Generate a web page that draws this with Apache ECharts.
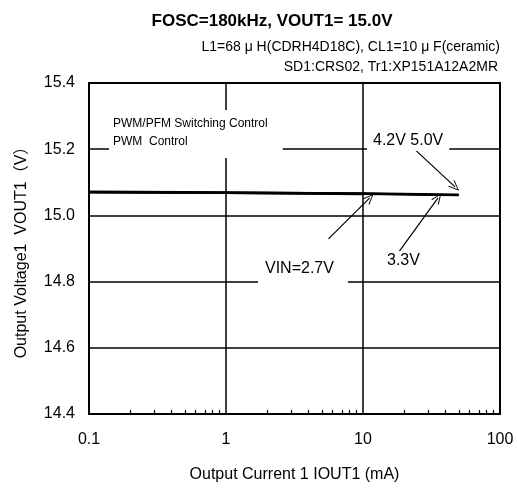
<!DOCTYPE html>
<html>
<head>
<meta charset="utf-8">
<script src="https://cdn.jsdelivr.net/npm/echarts@6/dist/echarts.min.js"></script>
<style>
  html, body { margin: 0; padding: 0; background: #fff; }
  #chart { width: 517px; height: 488px; }
</style>
</head>
<body>
<div id="chart"></div>
<script>
// curves: [IOUT1 mA, VOUT1 V]
const vin27 = [[0.1, 15.070], [1, 15.068], [10, 15.064]];
const vin33 = [[0.1, 15.072], [1, 15.070], [10, 15.066], [35, 15.062]];
const vin42 = [[0.1, 15.071], [1, 15.069], [10, 15.067], [50, 15.063]];
const vin50 = [[0.1, 15.069], [1, 15.068], [10, 15.065], [50, 15.061]];
const minorTicks = [0.2, 0.3, 0.4, 0.5, 0.6, 0.7, 0.8, 0.9, 2, 3, 4, 5, 6, 7, 8, 9, 20, 30, 40, 50, 60, 70, 80, 90];
// arrows pointing from labels to curves, in data units
const arrows = [
  [[5.6, 14.929], [11.2, 15.053]],
  [[18.0, 14.886], [35.3, 15.053]],
  [[22.8, 15.207], [47.0, 15.086]]
];

const chart = echarts.init(document.getElementById("chart"));
const font = "Liberation Sans, Arial, sans-serif";
const vee = "path://M0,0 L6,12 L4.8,12.6 L0,2.4 L-4.8,12.6 L-6,12 Z";

function curve(name, data) {
  return {
    name: name,
    type: "line",
    data: data,
    showSymbol: false,
    lineStyle: { color: "#000", width: 2 },
    z: 3
  };
}

const series = [
  curve("2.7V", vin27),
  curve("3.3V", vin33),
  curve("4.2V", vin42),
  curve("5.0V", vin50)
];
series[0].markLine = {
  silent: true,
  symbol: ["none", vee],
  symbolSize: [9, 11],
  label: { show: false },
  lineStyle: { color: "#000", width: 1.2, type: "solid" },
  data: arrows.map(a => [{ coord: a[0] }, { coord: a[1] }])
};

chart.setOption({
  backgroundColor: "#fff",
  animation: false,
  textStyle: { fontFamily: font, color: "#000" },
  title: {
    text: "FOSC=180kHz, VOUT1= 15.0V",
    left: 267,
    top: 8,
    textAlign: "center",
    textStyle: { fontSize: 17, fontWeight: "bold", color: "#000", fontFamily: font }
  },
  grid: {
    left: 89,
    right: 17,
    top: 83,
    bottom: 74,
    show: true,
    borderColor: "#000",
    borderWidth: 2
  },
  xAxis: [
    {
      type: "log",
      logBase: 10,
      min: 0.1,
      max: 100,
      name: "Output Current 1 IOUT1 (mA)",
      nameLocation: "middle",
      nameGap: 53,
      nameTextStyle: { fontSize: 16, color: "#000" },
      axisLine: { lineStyle: { color: "#000", width: 2 } },
      axisTick: { show: false },
      axisLabel: {
        fontSize: 16,
        color: "#000",
        margin: 18,
        formatter: v => String(v)
      },
      splitLine: { show: true, lineStyle: { color: "#000", width: 1.5 } }
    },
    {
      type: "log",
      logBase: 10,
      min: 0.1,
      max: 100,
      position: "bottom",
      axisLine: { show: false },
      axisLabel: { show: false },
      splitLine: { show: false },
      axisTick: {
        show: true,
        inside: true,
        length: 4,
        customValues: minorTicks,
        lineStyle: { color: "#000", width: 1.2 }
      }
    }
  ],
  yAxis: {
    type: "value",
    min: 14.4,
    max: 15.4,
    interval: 0.2,
    name: "Output Voltage1  VOUT1（V）",
    nameLocation: "middle",
    nameGap: 59,
    nameTextStyle: { fontSize: 16, color: "#000", fontFamily: "Liberation Sans, Noto Sans CJK JP, sans-serif" },
    axisLine: { show: true, lineStyle: { color: "#000", width: 2 } },
    axisTick: { show: false },
    axisLabel: {
      fontSize: 16,
      color: "#000",
      margin: 14,
      formatter: v => v.toFixed(1)
    },
    splitLine: { show: true, lineStyle: { color: "#000", width: 1.5 } }
  },
  graphic: [
    {
      type: "text",
      right: 17,
      top: 40,
      style: {
        text: "L1=68 \u03bc H(CDRH4D18C), CL1=10 \u03bc F(ceramic)",
        font: "14px " + font,
        fill: "#000"
      }
    },
    {
      type: "text",
      right: 19,
      top: 60,
      style: {
        text: "SD1:CRS02, Tr1:XP151A12A2MR",
        font: "14px " + font,
        fill: "#000"
      }
    },
    {
      type: "text",
      left: 109,
      top: 110,
      z: 10,
      style: {
        text: "PWM/PFM Switching Control\nPWM  Control",
        font: "12px " + font,
        fill: "#000",
        lineHeight: 18,
        backgroundColor: "#fff",
        padding: [5, 15, 7, 4]
      }
    },
    {
      type: "text",
      left: 367,
      top: 131,
      z: 10,
      style: {
        text: "4.2V 5.0V",
        font: "16px " + font,
        fill: "#000",
        backgroundColor: "#fff",
        padding: [2, 6, 2, 6]
      }
    },
    {
      type: "text",
      left: 385,
      top: 251,
      z: 10,
      style: {
        text: "3.3V",
        font: "16px " + font,
        fill: "#000",
        backgroundColor: "#fff",
        padding: [2, 2, 2, 2]
      }
    },
    {
      type: "text",
      left: 258,
      top: 258,
      z: 10,
      style: {
        text: "VIN=2.7V",
        font: "16px " + font,
        fill: "#000",
        backgroundColor: "#fff",
        padding: [3, 14, 14, 7]
      }
    }
  ],
  series: series
});
</script>
</body>
</html>
